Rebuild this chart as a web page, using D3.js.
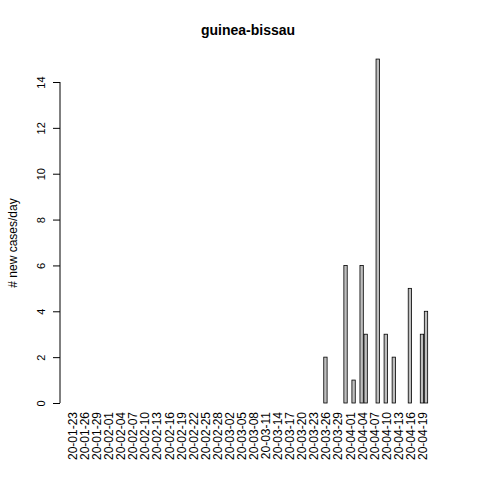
<!DOCTYPE html>
<html><head><meta charset="utf-8">
<script src="https://cdn.jsdelivr.net/npm/d3@7"></script>
<style>body{margin:0;background:#fff}</style>
</head><body><div id="chart"></div>
<script>
// Daily new cases, 2020-01-23 .. 2020-04-20 (only non-zero days listed)
const startDate = new Date(2020, 0, 23);
const nDays = 89;
const caseDays = ["20-03-26","20-03-31","20-04-02","20-04-04","20-04-05","20-04-08","20-04-10","20-04-12","20-04-16","20-04-19","20-04-20"];
const caseValues = [2, 6, 1, 6, 3, 15, 3, 2, 5, 3, 4];
const yTicks = [0, 2, 4, 6, 8, 10, 12, 14];

const fmt = d3.timeFormat("%y-%m-%d");
const dates = d3.range(nDays).map(i => fmt(d3.timeDay.offset(startDate, i)));
const data = dates.map(d => {
    const k = caseDays.indexOf(d);
    return { date: d, count: k >= 0 ? caseValues[k] : 0 };
});
const tickLabels = dates.filter((d, i) => i % 3 === 0);

const width = 480, height = 480;
const svg = d3.select("#chart").append("svg")
    .attr("width", width).attr("height", height)
    .style("font-family", "Liberation Sans, Arial, sans-serif");

const xScale = d3.scaleBand()
    .domain(dates)
    .range([70, 428])
    .paddingInner(0.167)
    .paddingOuter(0.083);

const yScale = d3.scaleLinear().domain([0, 14]).range([403, 82]);

// Bars
svg.selectAll("rect")
    .data(data)
    .enter()
    .append("rect")
    .attr("x", d => xScale(d.date))
    .attr("y", d => yScale(d.count))
    .attr("width", xScale.bandwidth())
    .attr("height", d => 403 - yScale(d.count))
    .attr("fill", "#bebebe")
    .attr("stroke", "#000")
    .attr("stroke-width", 0.8);

// Y axis
const yAxis = svg.append("g")
    .attr("transform", "translate(60,0)")
    .call(d3.axisLeft(yScale).tickValues(yTicks).tickSize(7).tickPadding(4));
yAxis.select(".domain").attr("d", `M0,${yScale(0)}V${yScale(14)}`);
yAxis.selectAll(".tick text")
    .attr("font-size", 11).attr("fill", "#000")
    .attr("x", 0).attr("y", -15).attr("dy", 0)
    .attr("transform", "rotate(-90)")
    .style("text-anchor", "middle");

// X labels
svg.append("g").selectAll("text")
    .data(tickLabels)
    .enter()
    .append("text")
    .attr("transform", d => `translate(${xScale(d) + xScale.bandwidth() / 2 + 5},412) rotate(-90)`)
    .attr("text-anchor", "end")
    .attr("font-size", 12)
    .text(d => d);

// Title and axis label
svg.append("text")
    .attr("x", 248).attr("y", 35)
    .attr("text-anchor", "middle")
    .attr("font-size", 14).attr("font-weight", "bold")
    .text("guinea-bissau");

svg.append("text")
    .attr("transform", "translate(17,243) rotate(-90)")
    .attr("text-anchor", "middle")
    .attr("font-size", 12)
    .text("# new cases/day");
</script>
</body></html>
